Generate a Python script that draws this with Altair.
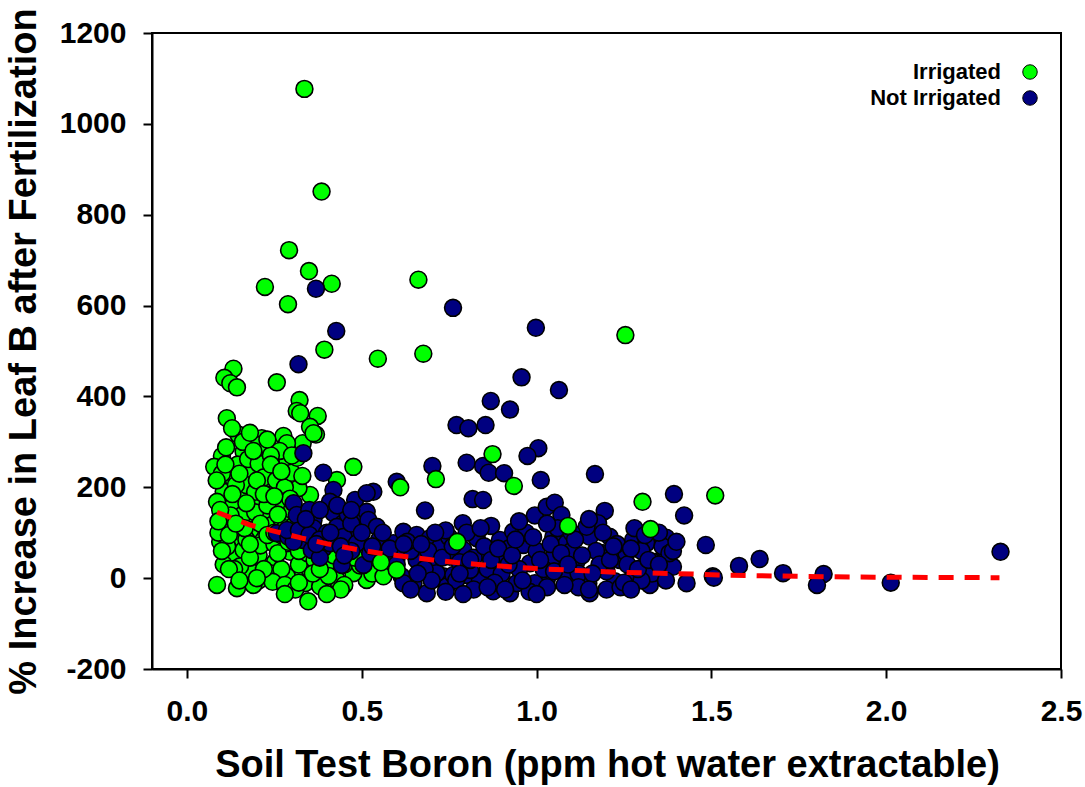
import altair as alt
import pandas as pd

# ---- data ----
irr_x = [0.336, 0.385, 0.292, 0.349, 0.223, 0.414, 0.289, 0.662, 1.254, 0.393, 0.546, 0.676,
         0.133, 0.107, 0.124, 0.143, 0.257, 0.322, 0.314, 0.374, 0.352, 0.369, 0.331, 0.324, 0.362,
         0.114, 0.147, 0.129, 0.203, 0.214, 0.276, 0.286, 0.100, 0.112, 0.162, 0.078, 0.129, 0.181,
         0.262, 0.287, 0.233, 0.205, 0.476, 0.429, 0.352, 0.319, 0.105, 0.162, 0.086, 0.133, 0.200,
         0.238, 0.271, 0.224, 0.114, 0.186, 0.095, 0.143, 0.219, 0.181, 0.119, 0.129, 0.162, 0.205,
         0.252, 0.295, 0.181, 0.238, 0.309, 0.338, 0.347, 0.400, 0.381, 0.429, 0.086, 0.143, 0.152,
         0.514, 0.467, 0.286, 0.286, 0.238, 0.352, 0.476, 0.562, 0.600, 0.514, 0.712, 0.610, 0.874,
         0.935, 0.773, 1.303, 1.326, 1.090, 1.511,
         0.100, 0.145, 0.175, 0.205, 0.220, 0.255, 0.280, 0.300, 0.295, 0.160, 0.195, 0.125, 0.095,
         0.245, 0.270, 0.300, 0.210, 0.250, 0.170, 0.115, 0.105, 0.270, 0.320, 0.345, 0.205, 0.245,
         0.280, 0.310, 0.405, 0.450, 0.495, 0.420, 0.365, 0.230, 0.170, 0.140, 0.265, 0.240, 0.315,
         0.165, 0.135, 0.190, 0.360, 0.330, 0.270, 0.195, 0.085, 0.555, 0.450,
         0.09, 0.10, 0.12, 0.13, 0.14, 0.15, 0.16, 0.17, 0.18, 0.19, 0.20, 0.21, 0.22, 0.23, 0.24,
         0.25, 0.26, 0.27, 0.28, 0.29, 0.30, 0.31, 0.32, 0.33, 0.34, 0.26, 0.18, 0.12, 0.15, 0.22,
         0.28, 0.32, 0.36, 0.44, 0.48, 0.53, 0.11, 0.18, 0.23, 0.09, 0.20, 0.25, 0.31, 0.38, 0.40]
irr_y = [1077, 851, 722, 676, 641, 648, 603, 657, 535, 503, 483, 494,
         461, 441, 429, 420, 431, 392, 368, 357, 333, 316, 297, 363, 319,
         352, 316, 330, 297, 308, 313, 297, 269, 288, 278, 245, 223, 234,
         245, 260, 205, 293, 245, 216, 183, 198, 190, 190, 168, 161, 165,
         183, 157, 139, 128, 121, 80, 91, 91, 106, 113, 47, 62, 51,
         36, 58, 15, 11, 4, -11, -51, 33, -18, -4, -15, -22, 26,
         -4, 58, 4, 77, 99, 18, 11, 4, 18, 62, 218, 200, 273,
         203, 80, 168, 108, 115, 182,
         230, 250, 262, 252, 222, 215, 200, 232, 175, 140, 145, 138, 150,
         118, 130, 150, 72, 75, 85, 70, 30, 20, 30, 55, -5, -8,
         -15, -25, 5, 30, 28, 50, 40, 160, 205, 205, 280, 270, 265,
         110, 20, -15, 100, 120, 95, 190, 215, 35, -15,
         100, 60, 95, 185, 120, 230, 300, 165, 45, 280, 215, 120, 185, 95, 250,
         180, 55, 235, 110, 80, 270, 120, 60, 225, 100, 140, 75, 20, -5, 20,
         -35, -10, 10, -25, 45, 10, 250, 320, 305, 125, 0, 100, 85, 20, -35]

noirr_x = [0.369, 0.427, 0.761, 0.998, 0.319, 0.333,
           0.957, 1.064, 0.869, 0.924, 0.771, 0.805, 0.854, 1.005, 0.974, 0.702, 0.800, 0.847,
           0.863, 0.907, 1.012, 1.167, 1.393, 1.422, 1.484,
           0.681, 0.817, 0.847, 0.995, 1.029, 1.052, 1.071, 1.195, 0.789, 1.371, 1.362, 1.504, 1.429,
           0.600, 0.533, 0.390, 0.419, 0.305, 0.409, 0.481, 0.514, 0.314, 0.362, 0.419, 0.447, 0.495,
           0.257, 0.290, 0.333, 0.390, 0.457, 0.429, 0.357, 0.443, 0.505, 0.476,
           0.514, 0.362, 0.429, 0.519, 0.543, 0.305, 0.409, 0.448, 0.486, 0.524, 0.562, 0.590, 0.619,
           0.657, 0.695, 0.724, 0.705, 0.657, 0.614, 0.648, 0.686, 0.733, 0.286,
           0.619, 0.743, 0.924, 0.876, 0.714, 0.800, 0.829, 0.895, 0.933, 0.962,
           1.048, 1.086, 1.152, 1.176, 1.143, 1.209, 1.276, 1.314, 1.238, 1.276, 1.324, 1.224, 1.152,
           1.148, 1.086, 1.029, 0.995, 0.943, 0.838, 0.762, 0.810, 0.752, 0.791, 0.857, 0.905, 0.981,
           1.048, 1.114, 1.190, 1.257, 1.333, 1.390,
           1.507, 1.579, 1.638, 1.705, 1.821, 1.802, 2.013, 2.327,
           0.58, 0.64, 0.68, 0.75, 0.78, 0.82, 0.86, 0.92, 0.95, 0.97, 1.00, 1.02, 1.06, 1.10, 1.12,
           1.17, 1.20, 1.23, 1.26, 1.30, 1.33, 1.36, 1.12, 0.98, 0.82, 0.70, 1.20, 1.30, 1.38, 0.90,
           0.60, 0.55, 1.03, 1.10, 1.28, 0.95, 0.87, 0.40, 0.47, 0.38, 0.46, 0.35, 0.74, 0.63, 0.77,
           0.85, 0.88, 1.04, 1.18, 1.24, 1.35, 0.69, 0.92, 1.08, 1.15,
           0.32, 0.35, 0.38, 0.41, 0.44, 0.47, 0.50, 0.53, 0.56, 0.58, 0.60, 0.62, 0.66, 0.67, 0.71,
           0.73, 0.76, 0.78, 0.80, 0.81, 0.84, 0.86, 0.87, 0.89, 0.91, 0.93, 0.94, 0.96, 0.99, 1.01,
           1.03, 1.05, 1.07, 1.09, 1.11, 1.13, 1.16, 1.19, 1.21, 1.22, 1.25, 1.27, 1.29, 1.31, 1.32,
           1.35, 1.37, 1.39, 1.40, 0.64, 0.74, 0.79, 1.00, 1.15, 1.27, 0.34, 0.38, 0.43, 0.47, 0.37,
           0.45]
noirr_y = [637, 544, 595, 551, 471, 275,
           442, 414, 390, 371, 337, 330, 337, 286, 269, 247, 254, 247,
           232, 231, 216, 229, 185, 138, 73,
           149, 174, 172, 138, 157, 166, 139, 148, 121, 89, 44, 4, -11,
           212, 190, 232, 194, 165, 168, 172, 187, 139, 128, 143, 121, 132,
           99, 91, 84, 66, 106, 84, 62, 29, 29, 91,
           146, 110, 113, 128, 113, 80, 77, 91, 77, 55, 55, 77, 102,
           95, 88, 69, 40, 40, 4, -11, -33, 4, 106,
           -11, -18, -33, -29, 11, 7, 88, 84, 102, 73,
           91, 77, 91, 121, 113, 91, 84, 77, 40, 4, -15, -7, -33,
           -11, 4, -4, -11, -11, -4, 7, 18, 47, 62, 58, 47, 33,
           47, 36, 55, 55, 36, 25,
           1, 27, 42, 11, 9, -15, -10, 58,
           20, 60, 20, 90, 35, 45, 20, 65, 20, 100, 60, 20, 110, 60, 10,
           60, 15, 75, 30, 60, 10, 70, -20, -30, -25, -5, -25, -5, 55, 10,
           45, 85, 120, 100, 110, 125, 115, 100, 60, 45, 140, 150, 105, 80, -5,
           70, -10, 75, 30, -20, 100, 60, 30, -15, 130,
           105, 95, 85, 100, 70, 120, 100, 70, 100, 65, 30, 75, 10, 75, 100,
           45, 70, 10, 100, 40, 110, -20, 40, 65, -25, 50, 85, -5, 90, 40,
           -20, 15, 55, 30, 85, 50, 10, 100, 40, 70, -10, 65, 20, 95, 40,
           30, -5, 60, 80, -25, -30, -35, -35, -25, -25, 130, 150, 160, 150, 75,
           50]

trend_x = [0.086, 0.181, 0.257, 0.329, 0.405, 0.479, 0.552, 0.629, 0.703, 0.776, 0.850, 0.924,
           1.000, 1.224, 1.447, 1.521, 1.743, 1.967, 2.324]
trend_y = [145, 117, 102, 88, 75, 64, 55, 47, 40, 34, 29, 25, 21, 13, 9, 7, 4, 2, 1]

groups = ["Irrigated", "Not Irrigated"]
colors = ["#00FF00", "#000080"]

# ---- tables ----
pts = pd.DataFrame({
    "x": irr_x + noirr_x,
    "y": irr_y + noirr_y,
    "group": [groups[0]] * len(irr_x) + [groups[1]] * len(noirr_x),
})
# drawing order: most green below blue, right-hand green on top
pts["z"] = [3 if xv >= 0.55 else 1 for xv in irr_x] + [2] * len(noirr_x)
trend = pd.DataFrame({"x": trend_x, "y": trend_y})

FONT = "Liberation Sans"
xscale = alt.Scale(domain=[-0.1, 2.5], nice=False, zero=False)
yscale = alt.Scale(domain=[-200, 1200], nice=False, zero=False)

xaxis = alt.Axis(
    title="Soil Test Boron (ppm hot water extractable)",
    values=[0.0, 0.5, 1.0, 1.5, 2.0, 2.5], format=".1f",
    grid=False, domainColor="black", domainWidth=2, tickColor="black", tickWidth=2,
    tickSize=9, labelFont=FONT, labelFontSize=30, labelFontWeight="bold", labelColor="black",
    labelPadding=18, labelFlush=False, labelOverlap=False,
    titleFont=FONT, titleFontSize=38, titleFontWeight="bold", titleColor="black",
    titleX=455, titleY=107, titleBaseline="alphabetic", titleAlign="center",
)
yaxis = alt.Axis(
    title="% Increase in Leaf B after Fertilization",
    values=[-200, 0, 200, 400, 600, 800, 1000, 1200],
    labelExpr="'' + datum.value",
    grid=False, domainColor="black", domainWidth=2, tickColor="black", tickWidth=2,
    tickSize=9, labelFont=FONT, labelFontSize=30, labelFontWeight="bold", labelColor="black",
    labelPadding=17, labelFlush=False, labelOverlap=False,
    titleFont=FONT, titleFontSize=38, titleFontWeight="bold", titleColor="black",
    titleX=-117, titleY=318, titleAngle=-90, titleBaseline="alphabetic", titleAlign="center",
)

points = alt.Chart(pts).mark_point(
    filled=True, size=285, opacity=1, stroke="black", strokeWidth=1.6, shape="circle"
).encode(
    x=alt.X("x:Q", scale=xscale, axis=xaxis),
    y=alt.Y("y:Q", scale=yscale, axis=yaxis),
    color=alt.Color(
        "group:N",
        scale=alt.Scale(domain=groups, range=colors),
        legend=alt.Legend(
            title=None, orient="none", legendX=867, legendY=28, padding=0,
            labelFont=FONT, labelFontSize=22, labelFontWeight="bold", labelColor="black",
            labelAlign="right", labelOffset={"expr": "-40"}, symbolSize=210, symbolType="circle",
            symbolStrokeColor="black", symbolStrokeWidth=1, symbolOpacity=1, rowPadding=4,
        ),
    ),
    order=alt.Order("z:Q", sort="ascending"),
)

line = alt.Chart(trend).mark_line(
    color="#FF0000", strokeWidth=5, strokeDash=[15, 11]
).encode(
    x=alt.X("x:Q", scale=xscale),
    y=alt.Y("y:Q", scale=yscale),
)

chart = alt.layer(points, line).properties(
    width=909, height=636,
    autosize=alt.AutoSizeParams(type="none"),
    padding={"left": 152, "top": 33, "right": 24, "bottom": 118},
    background="white",
).configure_view(stroke="black", strokeWidth=2)

chart.save("out.html", embed_options={"renderer": "svg", "actions": False})
